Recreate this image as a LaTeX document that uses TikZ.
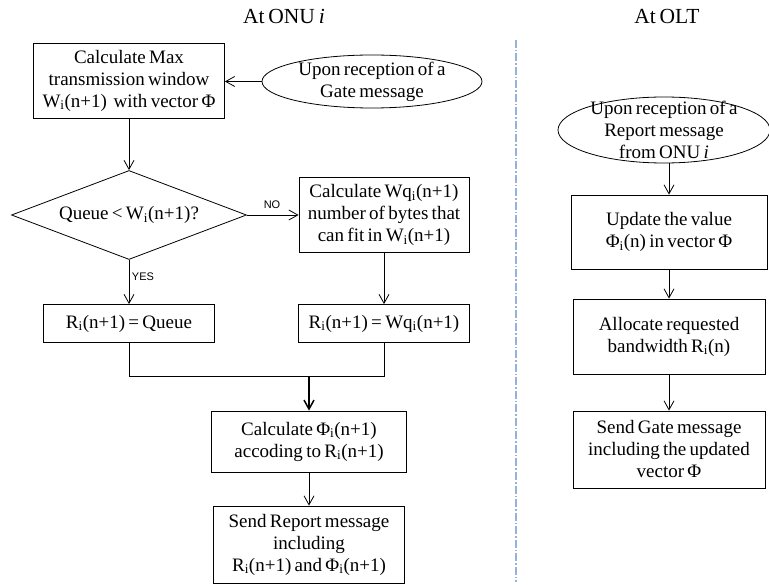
\documentclass[tikz,border=0pt]{standalone}
\usepackage{fontspec}
\setmainfont{Liberation Serif}[WordSpace=0.7]
\newfontfamily\lsans{Liberation Sans}
\usetikzlibrary{arrows.meta,shapes.geometric}
\newcommand{\subi}{\textsubscript{i}}
\definecolor{dashblue}{HTML}{95B3D7}
\begin{document}
\begin{tikzpicture}[x=1pt,y=-1pt,
  every node/.style={inner sep=0pt, font=\fontsize{19}{22}\selectfont, align=center},
  box/.style={draw, line width=0.8pt, rectangle},
  ell/.style={draw, line width=0.8pt, ellipse},
  dia/.style={draw, line width=0.8pt, diamond},
  ttl/.style={font=\fontsize{21.5}{24}\selectfont},
  lbl/.style={font=\lsans\fontsize{11}{13}\selectfont},
  arr/.style={draw, line width=0.8pt, -{Straight Barb[length=9pt,width=10pt]}},
  ln/.style={draw, line width=0.8pt},
  dline/.style={draw=dashblue, line width=1.2pt, dash pattern=on 8pt off 2pt on 1.5pt off 2pt}]
\useasboundingbox (0,0) rectangle (769,585);

% titles
\node[ttl] (t1) at (284,16) {At ONU \textit{i}};
\node[ttl] (t2) at (667,16) {At OLT};

% ONU side
\node[box, minimum width=191pt, minimum height=75pt] (b1) at (129,80.5)
  {Calculate Max\\transmission window\\W\subi(n+1)~ with vector Φ};
\node[ell, minimum width=220pt, minimum height=53pt] (g) at (372,81.5) {};
\node (gt) at (g) {Upon reception of a\\Gate message};

\node[dia, minimum width=235pt, minimum height=89pt] (d) at (129,215) {};
\node (dt) at (d) {Queue < W\subi(n+1)?};

\node[box, minimum width=170pt, minimum height=75pt] (wq) at (384,215)
  {Calculate Wq\subi(n+1)\\number of bytes that\\can fit in W\subi(n+1)};

\node[box, minimum width=171pt, minimum height=38pt] (r1) at (129,323.5)
  {R\subi(n+1) = Queue};
\node[box, minimum width=171pt, minimum height=38pt] (r2) at (384,323.5)
  {R\subi(n+1) = Wq\subi(n+1)};

\coordinate (m) at (309,376);

\node[box, minimum width=195pt, minimum height=61pt] (cp) at (309,441.5)
  {Calculate Φ\subi(n+1)\\accoding to R\subi(n+1)};
\node[box, minimum width=191pt, minimum height=77pt] (sr) at (309,544.5)
  {Send Report message\\including\\R\subi(n+1) and Φ\subi(n+1)};

\node[lbl] (no) at (272,205) {NO};
\node[lbl] (yes) at (143,277) {YES};

\draw[arr] (g.west) -- (g.west -| b1.east);
\draw[arr] (b1.south) -- (d.north);
\draw[arr] (d.east) -- (wq.west);
\draw[arr] (d.south) -- (r1.north);
\draw[arr] (wq.south) -- (r2.north);
\draw[ln] (r1.south) -- (r1.south |- m) -- (r2.south |- m) -- (r2.south);
\draw[arr, line width=1.5pt] (m) -- (cp.north);
\draw[arr] (cp.south) -- (sr.north);

% divider
\coordinate (dtop) at (516,40);
\coordinate (dbot) at (516,582);
\draw[dline] (dtop) -- (dbot);

% OLT side
\node[ell, minimum width=212pt, minimum height=66pt] (re) at (664,130) {};
\node (ret) at (re) {Upon reception of a\\Report message\\from ONU \textit{i}};

\node[box, minimum width=196pt, minimum height=74pt] (up) at (669,232)
  {Update the value\\Φ\subi(n) in vector Φ};
\node[box, minimum width=192pt, minimum height=75pt] (al) at (669,336.5)
  {Allocate requested\\bandwidth R\subi(n)};
\node[box, minimum width=192pt, minimum height=77pt] (sg) at (669,449.5)
  {Send Gate message\\including the updated\\vector Φ};

\draw[arr] (re.south -| up.north) -- (up.north);
\draw[arr] (up.south) -- (al.north);
\draw[arr] (al.south) -- (sg.north);
\end{tikzpicture}
\end{document}
